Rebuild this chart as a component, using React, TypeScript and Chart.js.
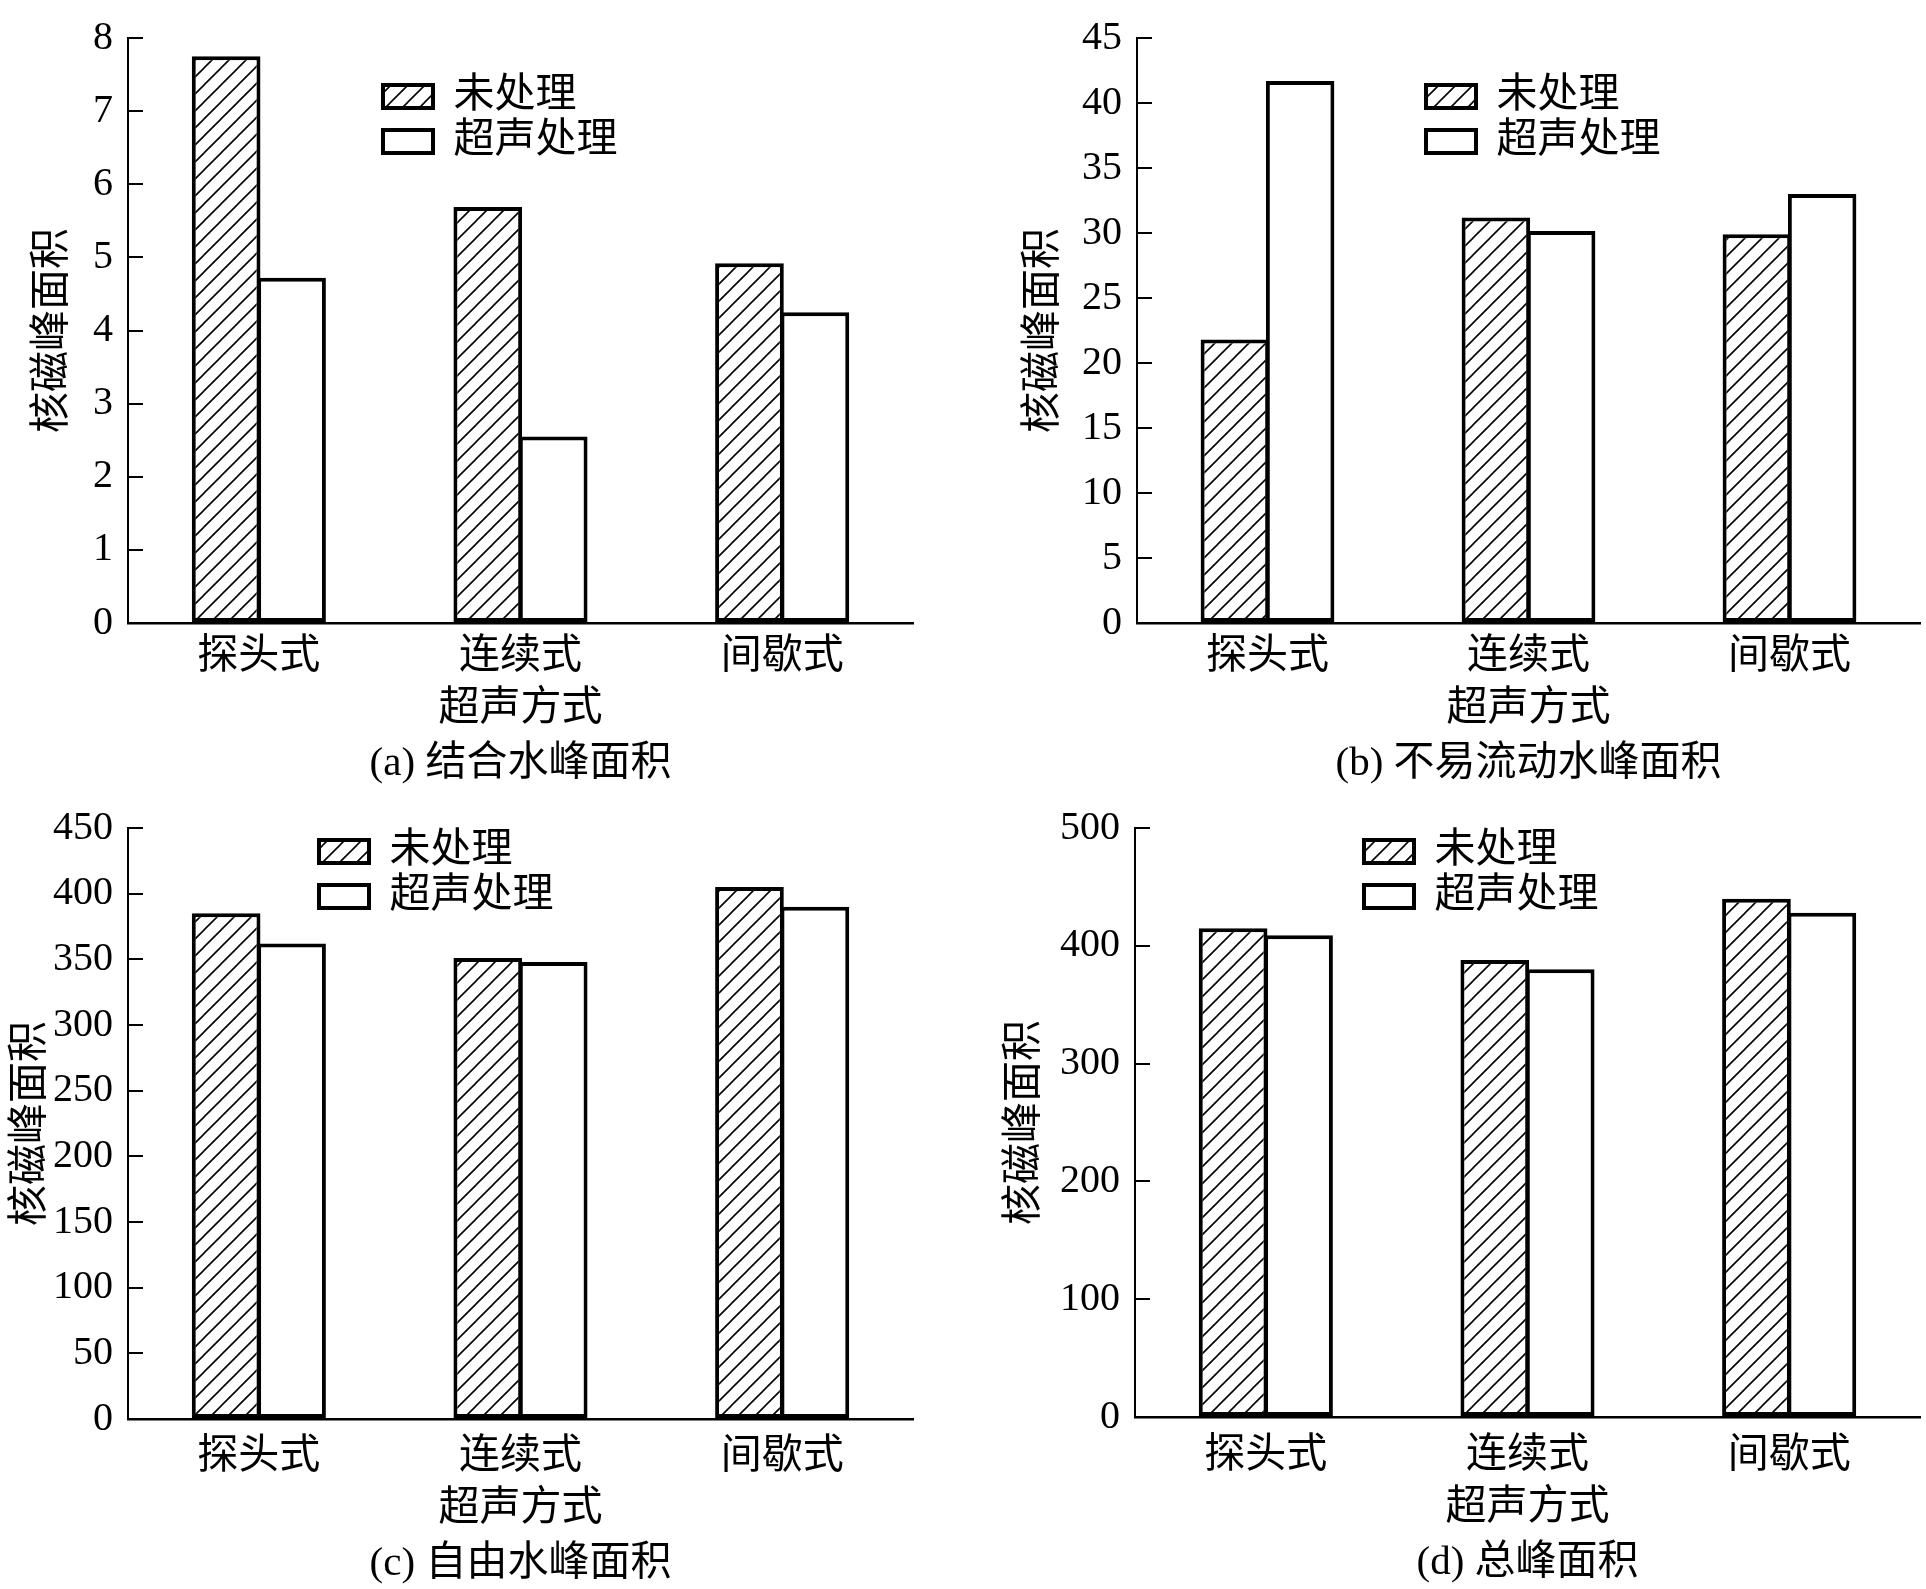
import React, { useEffect, useRef } from 'react';
import { Chart, registerables } from 'chart.js';

Chart.register(...registerables);

const categories = ['探头式', '连续式', '间歇式'];
const seriesNames = ['未处理', '超声处理'];
const xTitle = '超声方式';
const yTitle = '核磁峰面积';

// (a) bound water
const boundUntreated = [7.75, 5.69, 4.92];
const boundUltrasonic = [4.72, 2.55, 4.25];
// (b) immobile water
const immobileUntreated = [21.8, 31.2, 29.9];
const immobileUltrasonic = [41.7, 30.15, 33.0];
// (c) free water
const freeUntreated = [385, 351, 405];
const freeUltrasonic = [362, 348, 390];
// (d) total
const totalUntreated = [415, 388, 440];
const totalUltrasonic = [409, 380, 428];

const yMax = [8, 45, 450, 500];
const yStep = [1, 5, 50, 100];
const captions = ['(a) 结合水峰面积', '(b) 不易流动水峰面积', '(c) 自由水峰面积', '(d) 总峰面积'];

const FAMILY = "'Liberation Serif', 'Noto Sans CJK SC', serif";

type PanelSpec = {
  left: number;
  top: number;
  w: number;
  h: number;
  area: { l: number; t: number; r: number; b: number };
  xTickPad: number;
  yTitlePad: number;
  capPad: number;
  legend: { x: number; y: number };
  untreated: number[];
  ultrasonic: number[];
  max: number;
  step: number;
  caption: string;
};

const PANELS: PanelSpec[] = [
  {
    left: 0, top: 0, w: 963, h: 794,
    area: { l: 128, t: 38, r: 913, b: 623 },
    xTickPad: 10, yTitlePad: 29, capPad: 2, legend: { x: 379, y: 72 },
    untreated: boundUntreated, ultrasonic: boundUltrasonic,
    max: yMax[0], step: yStep[0], caption: captions[0],
  },
  {
    left: 963, top: 0, w: 963, h: 794,
    area: { l: 174, t: 38, r: 957, b: 623 },
    xTickPad: 10, yTitlePad: 57, capPad: 2, legend: { x: 459, y: 72 },
    untreated: immobileUntreated, ultrasonic: immobileUltrasonic,
    max: yMax[1], step: yStep[1], caption: captions[1],
  },
  {
    left: 0, top: 794, w: 963, h: 795,
    area: { l: 128, t: 34, r: 913, b: 625 },
    xTickPad: 14, yTitlePad: 7, capPad: -3, legend: { x: 315, y: 33 },
    untreated: freeUntreated, ultrasonic: freeUltrasonic,
    max: yMax[2], step: yStep[2], caption: captions[2],
  },
  {
    left: 963, top: 794, w: 963, h: 795,
    area: { l: 172, t: 34, r: 957, b: 623 },
    xTickPad: 15, yTitlePad: 38, capPad: -2, legend: { x: 397, y: 33 },
    untreated: totalUntreated, ultrasonic: totalUltrasonic,
    max: yMax[3], step: yStep[3], caption: captions[3],
  },
];

function makeHatch(ctx: CanvasRenderingContext2D): CanvasPattern | string {
  const s = 17;
  const c = document.createElement('canvas');
  c.width = s;
  c.height = s;
  const g = c.getContext('2d');
  if (!g) return '#fff';
  g.fillStyle = '#fff';
  g.fillRect(0, 0, s, s);
  g.strokeStyle = '#000';
  g.lineWidth = 1.6;
  g.beginPath();
  g.moveTo(-2, 2);
  g.lineTo(2, -2);
  g.moveTo(0, s);
  g.lineTo(s, 0);
  g.moveTo(s - 2, s + 2);
  g.lineTo(s + 2, s - 2);
  g.stroke();
  return ctx.createPattern(c, 'repeat') ?? '#fff';
}

// moves the built-in legend to a fixed spot inside the plot
const legendPlacer = {
  id: 'legendPlacer',
  afterLayout(chart: any, _args: any, opts: any) {
    const lg = chart.legend;
    if (!lg) return;
    lg.left = opts.x;
    lg.top = opts.y;
    lg.right = opts.x + 420;
    lg.bottom = opts.y + 200;
  },
};

const BarPanel: React.FC<{ spec: PanelSpec }> = ({ spec }) => {
  const canvasRef = useRef<HTMLCanvasElement | null>(null);

  useEffect(() => {
    const canvas = canvasRef.current;
    if (!canvas) return;
    const ctx = canvas.getContext('2d');
    if (!ctx) return;

    const font = { family: FAMILY, size: 41 };
    const hatch = makeHatch(ctx);

    const chart = new Chart(ctx, {
      type: 'bar',
      data: {
        labels: categories,
        datasets: [
          {
            label: seriesNames[0],
            data: spec.untreated,
            backgroundColor: hatch as any,
            borderColor: '#000',
            borderWidth: 4,
            borderSkipped: false,
          },
          {
            label: seriesNames[1],
            data: spec.ultrasonic,
            backgroundColor: '#fff',
            borderColor: '#000',
            borderWidth: 4,
            borderSkipped: false,
          },
        ],
      },
      plugins: [legendPlacer],
      options: {
        animation: false,
        responsive: false,
        devicePixelRatio: 1,
        categoryPercentage: 0.5,
        barPercentage: 1.05,
        layout: {
          padding: { left: 0, top: spec.area.t, right: spec.w - spec.area.r, bottom: 0 },
        },
        plugins: {
          legend: {
            position: 'chartArea',
            align: 'start',
            labels: {
              boxWidth: 50,
              boxHeight: 23,
              padding: 4,
              color: '#000',
              font,
            },
          },
          tooltip: { enabled: false },
          legendPlacer: spec.legend,
        } as any,
        scales: {
          x: {
            type: 'category',
            offset: true,
            grid: { display: false, drawOnChartArea: false, drawTicks: false },
            border: { display: true, color: '#000', width: 2.5 },
            ticks: {
              color: '#000',
              font,
              padding: spec.xTickPad,
              maxRotation: 0,
              autoSkip: false,
            },
            title: {
              display: true,
              text: [xTitle, spec.caption],
              color: '#000',
              font: { family: FAMILY, size: 41, lineHeight: 1.34 },
              padding: { top: 0, bottom: spec.capPad },
            },
            afterFit: (scale: any) => {
              scale.height = spec.h - spec.area.b;
              scale.paddingLeft = 0;
              scale.paddingRight = 0;
            },
          },
          y: {
            min: 0,
            max: spec.max,
            ticks: {
              stepSize: spec.step,
              color: '#000',
              font: { family: FAMILY, size: 40 },
              padding: 30,
            },
            grid: {
              drawOnChartArea: false,
              drawTicks: true,
              tickLength: -15,
              color: '#000',
              lineWidth: 2,
            },
            border: { display: true, color: '#000', width: 2 },
            title: {
              display: true,
              text: yTitle,
              color: '#000',
              font,
              padding: { top: spec.yTitlePad, bottom: 0 },
            },
            afterFit: (scale: any) => {
              scale.width = spec.area.l;
              scale.paddingTop = 0;
              scale.paddingBottom = 0;
            },
          },
        },
      } as any,
    });

    return () => {
      chart.destroy();
    };
  }, [spec]);

  return (
    <canvas
      ref={canvasRef}
      width={spec.w}
      height={spec.h}
      style={{ position: 'absolute', left: spec.left, top: spec.top, width: spec.w, height: spec.h }}
    />
  );
};

export default function App() {
  return (
    <div style={{ position: 'absolute', left: 0, top: 0, width: 1926, height: 1589, background: '#fff' }}>
      {PANELS.map((p, i) => (
        <BarPanel key={i} spec={p} />
      ))}
    </div>
  );
}
